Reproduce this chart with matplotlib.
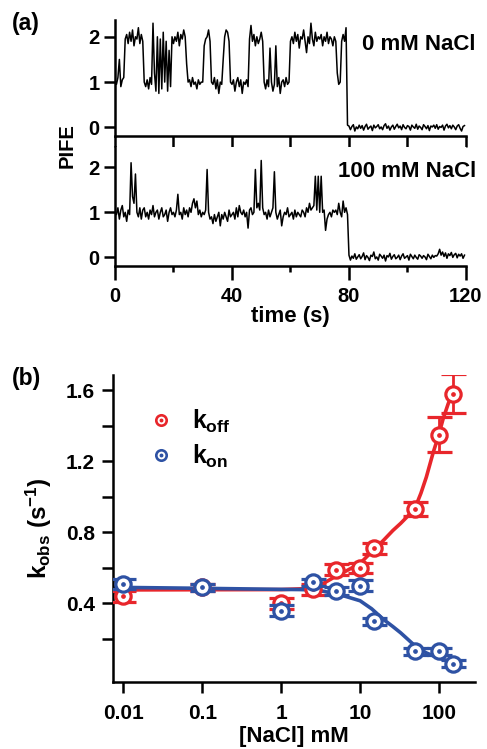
import numpy as np
import matplotlib
matplotlib.use("Agg")
import matplotlib.pyplot as plt
from matplotlib.lines import Line2D
from matplotlib.legend_handler import HandlerTuple
from matplotlib.ticker import FixedLocator, NullLocator

plt.rcParams['font.family'] = ['Liberation Sans', 'DejaVu Sans']
plt.rcParams['font.weight'] = 'bold'
plt.rcParams['mathtext.fontset'] = 'custom'
plt.rcParams['mathtext.rm'] = 'Liberation Sans:bold'
plt.rcParams['mathtext.it'] = 'Liberation Sans:bold'
plt.rcParams['mathtext.bf'] = 'Liberation Sans:bold'

# ---- (a) PIFE traces, one sample every 0.5 s ----
time = np.arange(0, 120, 0.5)

pife_0mM = [
    1.05, 0.95, 1.10, 1.50, 0.90, 1.05, 1.10, 1.95, 2.05, 1.85,
    2.10, 1.90, 2.15, 1.80, 2.00, 1.95, 2.20, 1.85, 2.05, 1.90,
    1.00, 0.90, 1.05, 0.85, 1.10, 0.95, 2.30, 1.20, 0.80, 2.00,
    0.75, 1.95, 0.85, 2.10, 1.00, 1.90, 0.80, 1.70, 0.90, 2.00,
    1.85, 2.00, 1.90, 2.10, 1.80, 2.05, 1.95, 2.15, 2.00, 1.40,
    1.00, 1.05, 0.90, 1.10, 0.95, 1.00, 0.85, 1.05, 0.95, 1.00,
    1.00, 1.80, 1.95, 2.00, 2.15, 1.90, 1.00, 0.95, 1.10, 0.85,
    1.05, 0.75, 1.00, 0.95, 1.50, 2.00, 2.15, 2.10, 1.90, 1.00,
    0.95, 1.05, 0.80, 1.00, 1.10, 0.90, 1.05, 0.75, 1.00, 0.95,
    1.05, 0.90, 1.95, 2.25, 1.90, 2.05, 1.80, 2.00, 1.85, 1.95,
    2.10, 1.90, 1.00, 0.85, 1.05, 0.90, 1.75, 1.00, 0.80, 0.95,
    1.80, 0.90, 1.10, 0.75, 1.00, 1.05, 0.90, 1.10, 0.95, 1.00,
    1.90, 2.00, 1.85, 2.10, 1.90, 2.05, 1.75, 2.00, 1.95, 2.15,
    1.90, 1.65, 2.00, 1.85, 2.30, 1.95, 1.80, 2.10, 1.90, 2.00,
    1.95, 2.05, 1.80, 2.00, 1.90, 2.10, 1.85, 2.00, 1.95, 1.80,
    2.00, 1.90, 1.20, 0.95, 1.00, 1.90, 2.05, 1.90, 2.20, 0.05,
    0.03, -0.05, 0.02, 0.06, -0.08, 0.01, -0.03, 0.05, -0.02, 0.04,
    -0.06, 0.02, 0.07, -0.04, 0.00, 0.03, -0.07, 0.05, -0.01, 0.02,
    0.06, -0.03, 0.01, -0.05, 0.04, 0.08, -0.02, 0.03, -0.06, 0.01,
    0.05, -0.04, 0.02, 0.07, -0.01, 0.03, -0.05, 0.06, 0.00, -0.03,
    0.04, 0.02, -0.06, 0.05, 0.01, -0.02, 0.07, -0.04, 0.03, 0.00,
    -0.05, 0.06, 0.02, -0.03, 0.04, -0.07, 0.03, 0.01, 0.05, -0.02,
    0.06, -0.04, 0.02, 0.00, 0.05, -0.06, 0.03, 0.07, -0.01, 0.04,
    -0.03, 0.05, 0.01, -0.05, 0.03, 0.06, -0.02, -0.08, 0.02, 0.04,
]

pife_100mM = [
    1.00, 0.95, 1.10, 0.85, 1.05, 1.15, 0.90, 1.00, 0.80, 1.05,
    0.95, 2.10, 1.35, 1.20, 1.85, 1.00, 0.90, 1.10, 0.85, 1.05,
    1.10, 0.90, 1.00, 0.85, 1.05, 0.95, 1.15, 0.90, 1.00, 1.05,
    0.85, 1.00, 1.10, 0.90, 0.95, 1.05, 0.80, 1.00, 1.10, 0.95,
    1.00, 0.90, 1.05, 1.40, 0.95, 1.00, 0.85, 1.10, 0.95, 1.05,
    0.90, 1.10, 1.00, 1.20, 1.30, 1.10, 1.25, 0.95, 1.05, 0.90,
    1.00, 0.95, 1.05, 1.95, 1.00, 0.85, 0.90, 0.75, 0.95, 0.80,
    0.90, 1.00, 0.70, 0.95, 0.85, 1.00, 0.90, 0.80, 1.05, 0.90,
    0.95, 1.00, 0.85, 1.10, 0.90, 1.15, 1.00, 0.95, 1.05, 0.90,
    1.00, 0.65, 1.05, 1.10, 0.95, 1.00, 1.95, 1.10, 1.20, 1.05,
    2.15, 1.10, 0.95, 1.00, 0.85, 1.05, 0.90, 1.00, 1.10, 1.90,
    1.00, 0.85, 0.95, 1.05, 0.70, 0.90, 1.00, 0.95, 1.10, 0.90,
    0.95, 1.00, 0.85, 1.05, 0.90, 1.00, 0.95, 0.90, 1.05, 1.00,
    0.90, 1.10, 1.00, 1.20, 1.05, 1.10, 1.15, 1.80, 1.05, 1.80,
    1.00, 1.80, 1.00, 1.05, 0.60, 0.85, 0.95, 1.00, 0.90, 1.05,
    1.00, 1.05, 0.95, 1.20, 1.00, 0.90, 1.25, 1.00, 1.10, 0.95,
    0.05, -0.06, 0.03, -0.02, 0.08, -0.04, 0.01, 0.06, -0.03, 0.02,
    0.10, -0.05, 0.04, 0.00, -0.07, 0.05, 0.02, 0.12, -0.03, 0.01,
    -0.06, 0.07, 0.03, -0.02, 0.05, -0.08, 0.04, 0.01, 0.09, -0.04,
    0.02, 0.06, -0.03, 0.00, 0.05, -0.05, 0.03, 0.08, -0.02, 0.01,
    0.04, -0.06, 0.07, 0.02, -0.03, 0.05, 0.00, -0.04, 0.06, 0.03,
    -0.02, 0.04, 0.01, -0.05, 0.07, 0.02, -0.03, 0.05, 0.00, 0.04,
    0.03, 0.08, 0.18, 0.05, 0.12, 0.02, 0.10, -0.02, 0.08, 0.04,
    0.11, 0.00, 0.06, 0.09, -0.01, 0.07, 0.03, 0.08, -0.02, 0.05,
]

# ---- (b) rates vs salt ----
nacl = [0.01, 0.1, 1, 2.5, 5, 10, 15, 50, 100, 150]
k_off = [0.44, 0.49, 0.40, 0.48, 0.59, 0.60, 0.71, 0.93, 1.35, 1.58]
k_off_err = [0.03, 0.02, 0.03, 0.03, 0.03, 0.03, 0.03, 0.04, 0.10, 0.11]
k_on = [0.51, 0.49, 0.36, 0.52, 0.47, 0.50, 0.30, 0.13, 0.13, 0.06]
k_on_err = [0.03, 0.02, 0.03, 0.02, 0.02, 0.03, 0.02, 0.02, 0.02, 0.02]

# fitted curves
fit_x = [0.0074, 0.01, 0.1, 1, 1.74, 2.5, 3.5, 4.6, 6.5, 10, 14, 19.8, 26, 32.6,
         41, 50, 59, 69, 84.5, 98, 113, 130, 152]
fit_off = [0.476, 0.476, 0.477, 0.478, 0.482, 0.49, 0.515, 0.545, 0.58, 0.625, 0.69,
           0.755, 0.81, 0.85, 0.895, 0.94, 1.02, 1.11, 1.25, 1.34, 1.44, 1.52, 1.60]
fit_on = [0.49, 0.49, 0.485, 0.479, 0.478, 0.476, 0.468, 0.455, 0.44, 0.415, 0.37,
          0.31, 0.27, 0.235, 0.195, 0.16, 0.14, 0.122, 0.105, 0.095, 0.085, 0.077, 0.07]

red = '#e8262b'
blue = '#2e52a4'

fig = plt.figure(figsize=(4.87, 7.49), dpi=100)

ax1 = fig.add_axes([0.2361, 0.8184, 0.7207, 0.1549])
ax2 = fig.add_axes([0.2361, 0.6449, 0.7207, 0.1589])

for ax, y, lab, top in [(ax1, pife_0mM, '0 mM NaCl', 2.37), (ax2, pife_100mM, '100 mM NaCl', 2.45)]:
    ax.plot(time, y, color='black', lw=1.1)
    ax.set_xlim(0, 120)
    ax.set_ylim(-0.19, top)
    ax.set_yticks([0, 1, 2])
    for s in ['top', 'right']:
        ax.spines[s].set_visible(False)
    for s in ['left', 'bottom']:
        ax.spines[s].set_linewidth(1.8)
    ax.tick_params(width=1.8, length=8, labelsize=14.5, pad=3)
    ax.text(1.028, 0.79, lab, transform=ax.transAxes, ha='right', va='center',
            fontsize=16, fontweight='bold')

ax1.set_xticks([0, 20, 40, 60, 80, 100, 120])
ax1.set_xticklabels([])
ax2.set_xticks([0, 40, 80, 120])
ax2.set_xticks([20, 60, 100], minor=True)
ax2.tick_params(axis='x', which='major', length=10, pad=5)
ax2.tick_params(axis='x', which='minor', width=1.8, length=4)
ax2.set_xlabel('time (s)', fontsize=16, fontweight='bold', labelpad=0)
fig.text(0.138, 0.806, 'PIFE', rotation=90, ha='center', va='center',
         fontsize=14.5, fontweight='bold')

# ---- panel b ----
ax3 = fig.add_axes([0.2314, 0.0899, 0.744, 0.4095])
ax3.plot(fit_x, fit_off, color=red, lw=2.6, zorder=2)
ax3.plot(fit_x, fit_on, color=blue, lw=2.6, zorder=2)

for y, e, c, z in [(k_off, k_off_err, red, 3), (k_on, k_on_err, blue, 4)]:
    ax3.errorbar(nacl, y, yerr=e, fmt='o', color=c, mfc='white', mec=c,
                 ms=11, mew=2.3, elinewidth=2.0, capsize=9, capthick=2.3, zorder=z)
    ax3.plot(nacl, y, ls='none', marker='o', ms=2.4, color=c, zorder=z + 0.5)

ax3.set_xscale('log')
ax3.set_xlim(10 ** -2.134, 10 ** 2.456)
ax3.set_ylim(-0.04, 1.685)
ax3.xaxis.set_major_locator(FixedLocator([0.01, 0.1, 1, 10, 100]))
ax3.xaxis.set_minor_locator(NullLocator())
ax3.set_xticklabels(['0.01', '0.1', '1', '10', '100'])
ax3.set_yticks([0.4, 0.8, 1.2, 1.6])
ax3.set_yticks([0.2, 0.6, 1.0, 1.4], minor=True)
for s in ['top', 'right']:
    ax3.spines[s].set_visible(False)
for s in ['left', 'bottom']:
    ax3.spines[s].set_linewidth(1.8)
ax3.tick_params(which='both', width=1.8, length=8, labelsize=15)
ax3.tick_params(axis='y', pad=5)
ax3.tick_params(axis='x', pad=8)
ax3.set_xlabel('[NaCl] mM', fontsize=16, fontweight='bold', labelpad=2)
ax3.set_ylabel('$k_{obs}$ (s$^{-1}$)', fontsize=17.5, fontweight='bold', labelpad=8)

h_off = (Line2D([], [], ls='none', marker='o', ms=7.5, mfc='white', mec=red, mew=1.9),
         Line2D([], [], ls='none', marker='o', ms=1.8, color=red))
h_on = (Line2D([], [], ls='none', marker='o', ms=7.5, mfc='white', mec=blue, mew=1.9),
        Line2D([], [], ls='none', marker='o', ms=1.8, color=blue))
ax3.legend([h_off, h_on], ['$k_{off}$', '$k_{on}$'],
           handler_map={tuple: HandlerTuple(ndivide=1, pad=0)},
           loc='upper left', bbox_to_anchor=(0.04, 0.965), frameon=False,
           fontsize=18, handlelength=0.9, handletextpad=0.8, labelspacing=0.3)

fig.text(0.053, 0.968, '(a)', ha='center', va='center', fontsize=16.5, fontweight='bold')
fig.text(0.055, 0.494, '(b)', ha='center', va='center', fontsize=16.5, fontweight='bold')

fig.savefig('out.png', dpi=100)
